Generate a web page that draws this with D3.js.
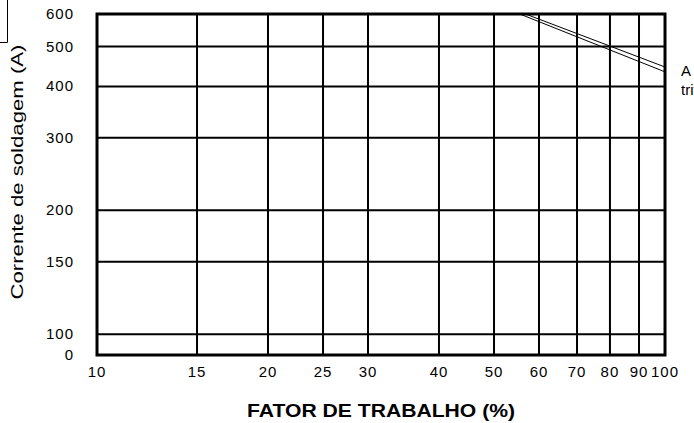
<!DOCTYPE html>
<html>
<head>
<meta charset="utf-8">
<script src="https://cdn.jsdelivr.net/npm/d3@7"></script>
<style>
  body { margin: 0; background: #fff; }
  svg { display: block; }
  text { font-family: "Liberation Sans", Arial, sans-serif; fill: #000; }
</style>
</head>
<body>
<script>
// duty cycle axis (%)
var xTicks = [10, 15, 20, 25, 30, 40, 50, 60, 70, 80, 90, 100];
// welding current axis (A)
var yTicks = [600, 500, 400, 300, 200, 150, 100];
var yBottom = 89, yBottomLabel = "0";

// two rated lines (duty %, current A)
var lineUpper = [[56.8, 600], [100, 446]];
var lineLower = [[55.5, 600], [100, 434]];

var width = 694, height = 423;
var pLeft = 97, pRight = 665, pTop = 14, pBottom = 355;

var svg = d3.select("body").append("svg")
    .attr("width", width)
    .attr("height", height);

var x = d3.scaleLog().domain([10, 100]).range([pLeft, pRight]);
var y = d3.scaleLog().domain([yBottom, 600]).range([pBottom, pTop]);

// cut-off box in the corner
svg.append("path")
    .attr("d", "M0,42.5H7.5V0")
    .attr("fill", "none")
    .attr("stroke", "#000")
    .attr("stroke-width", 1);

var g = svg.append("g");

// grid
g.selectAll("line.vx")
    .data(xTicks.slice(1, -1))
  .enter().append("line")
    .attr("x1", d => x(d)).attr("x2", d => x(d))
    .attr("y1", pTop).attr("y2", pBottom)
    .attr("stroke", "#000").attr("stroke-width", 2);

g.selectAll("line.hy")
    .data(yTicks.slice(1))
  .enter().append("line")
    .attr("x1", pLeft).attr("x2", pRight)
    .attr("y1", d => y(d)).attr("y2", d => y(d))
    .attr("stroke", "#000").attr("stroke-width", 2);

// rated lines
var line = d3.line().x(d => x(d[0])).y(d => y(d[1]));
[lineUpper, lineLower].forEach(function(pts) {
  g.append("path")
      .attr("d", line(pts))
      .attr("fill", "none")
      .attr("stroke", "#000")
      .attr("stroke-width", 1);
});

// frame
g.append("rect")
    .attr("x", pLeft).attr("y", pTop)
    .attr("width", pRight - pLeft).attr("height", pBottom - pTop)
    .attr("fill", "none").attr("stroke", "#000").attr("stroke-width", 3);

// tick labels
svg.selectAll("text.xt")
    .data(xTicks)
  .enter().append("text")
    .attr("x", d => x(d))
    .attr("y", 377)
    .attr("text-anchor", "middle")
    .style("font-size", "15px")
    .style("letter-spacing", "1px")
    .text(d => d);

svg.selectAll("text.yt")
    .data(yTicks.concat([yBottom]))
  .enter().append("text")
    .attr("x", 74)
    .attr("y", d => y(d) + 5)
    .attr("text-anchor", "end")
    .style("font-size", "15px")
    .style("letter-spacing", "1px")
    .text(d => d === yBottom ? yBottomLabel : d);

// axis titles
svg.append("text")
    .attr("transform", "translate(23,172) rotate(-90)")
    .attr("text-anchor", "middle")
    .attr("textLength", 255)
    .attr("lengthAdjust", "spacingAndGlyphs")
    .style("font-size", "16px")
    .text("Corrente de soldagem (A)");

svg.append("text")
    .attr("x", 381)
    .attr("y", 417)
    .attr("text-anchor", "middle")
    .attr("textLength", 268)
    .attr("lengthAdjust", "spacingAndGlyphs")
    .style("font-size", "18px")
    .style("font-weight", "bold")
    .text("FATOR DE TRABALHO (%)");

// side note (cut off by the page edge)
svg.append("text")
    .attr("x", 681).attr("y", 76)
    .style("font-size", "15px")
    .text("A");
svg.append("text")
    .attr("x", 681).attr("y", 95)
    .style("font-size", "15px")
    .text("trifásico");
</script>
</body>
</html>
